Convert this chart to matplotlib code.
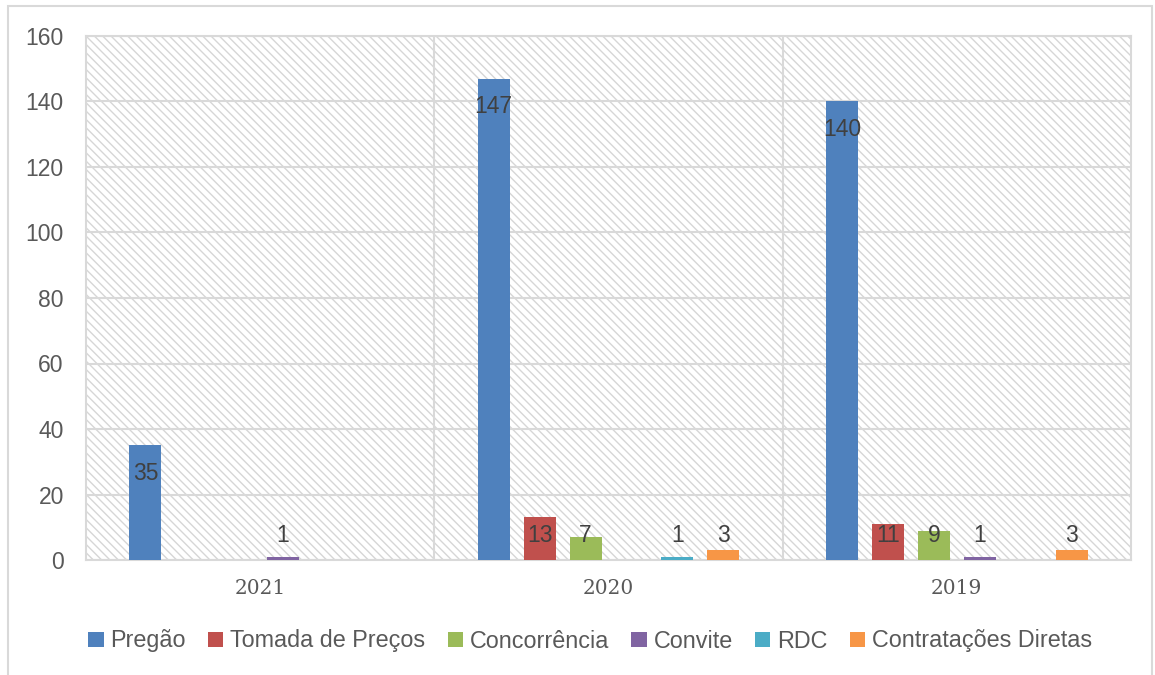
import matplotlib.pyplot as plt
import numpy as np
from matplotlib.patches import Rectangle, Patch

plt.rcParams['font.family'] = ['Liberation Sans', 'DejaVu Sans']
plt.rcParams['hatch.linewidth'] = 1.0

years = ['2021', '2020', '2019']
series = ['Pregão', 'Tomada de Preços', 'Concorrência', 'Convite', 'RDC', 'Contratações Diretas']
colors = ['#4F81BD', '#C0504D', '#9BBB59', '#8064A2', '#4BACC6', '#F79646']

pregao = [35, 147, 140]
tomada = [0, 13, 11]
concorrencia = [0, 7, 9]
convite = [1, 0, 1]
rdc = [0, 1, 0]
contratacoes = [0, 3, 3]
values = [pregao, tomada, concorrencia, convite, rdc, contratacoes]

text_color = '#404040'
tick_color = '#595959'
grid_color = '#d9d9d9'

fig = plt.figure(figsize=(11.55, 6.75), dpi=100)
ax = fig.add_axes([86 / 1155, 1 - 560 / 675, (1131 - 86) / 1155, (560 - 36) / 675])

# outer chart border
fig.patches.append(Rectangle((8 / 1155, -0.05), (1152 - 8) / 1155, 1.05 - 6 / 675,
                             transform=fig.transFigure, fill=False,
                             edgecolor=grid_color, linewidth=1.5))

# hatched plot area
ax.add_patch(Rectangle((0, 0), 1, 1, transform=ax.transAxes, facecolor='white',
                       edgecolor='#d6d6d6', hatch='\\\\\\\\', linewidth=0, zorder=0))

x = np.arange(len(years))
width = 32 / 349
step = 46 / 349
for i, (name, vals, color) in enumerate(zip(series, values, colors)):
    pos = x + (i - 2.5) * step
    ax.bar(pos, vals, width=width, color=color, label=name, zorder=3)
    for p, v in zip(pos, vals):
        if v:
            ax.text(p, max(v - 8.5, 7.5), str(v), ha='center', va='center',
                    fontsize=16.5, color=text_color, zorder=4)

ax.set_xlim(-0.5, 2.5)
ax.set_ylim(0, 160)
ax.set_yticks(np.arange(0, 161, 20))
ax.set_xticks(x, labels=years)
for lab in ax.get_xticklabels():
    lab.set_fontfamily('DejaVu Serif')
    lab.set_fontsize(14.5)
ax.tick_params(axis='y', length=0, pad=16, labelsize=16.5, labelcolor=tick_color)
ax.tick_params(axis='x', length=0, pad=14, labelcolor=tick_color)

ax.grid(axis='y', color=grid_color, linewidth=1.5, zorder=1)
for b in [0.5, 1.5]:
    ax.axvline(b, color=grid_color, linewidth=1.5, zorder=1)
for s in ax.spines.values():
    s.set_color(grid_color)
    s.set_linewidth(1.5)
ax.set_axisbelow(True)

handles = [Patch(facecolor=c, edgecolor='none') for c in colors]
fig.legend(handles, series, loc='center left', bbox_to_anchor=(79 / 1155, 1 - 641 / 675),
           ncol=6, frameon=False, fontsize=16.8, labelcolor=tick_color,
           handlelength=0.65, handleheight=0.65, handletextpad=0.3, columnspacing=0.95,
           borderaxespad=0)

fig.savefig('out.png', dpi=100)
